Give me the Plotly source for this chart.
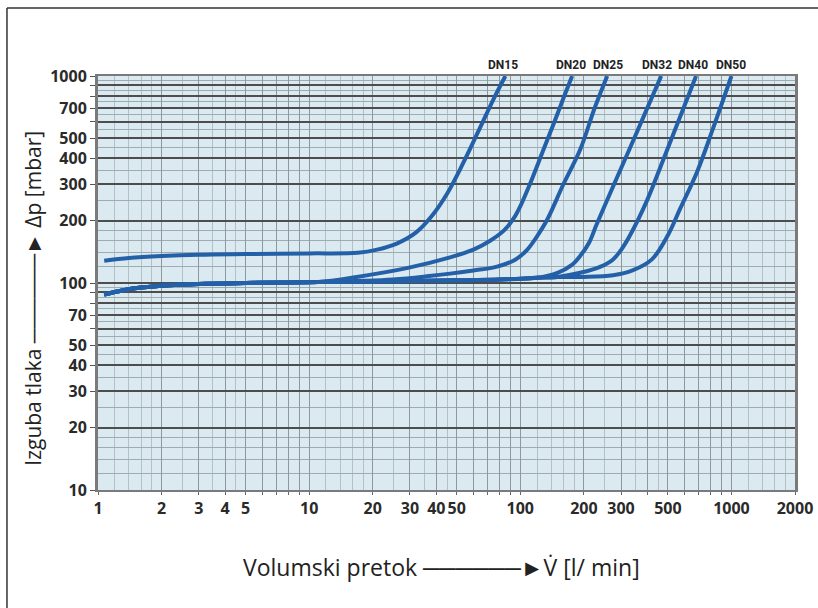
import math
import plotly.graph_objects as go

# ---- data (flow l/min, pressure loss mbar) ----
dn15_x = [1.07, 1.4, 2, 3, 5, 10, 17, 21, 26, 32, 38, 45, 53.6, 64.5, 75, 85]
dn15_y = [128, 132, 135, 137, 138, 139, 140, 145, 155, 175, 210, 270, 379, 563, 780, 1000]

# common lower branch shared by DN20 ... DN50
base_x = [1.07, 1.3, 1.6, 2, 3, 5, 8]
base_y = [88, 92, 95, 97, 99, 100, 100.5]

dn20_x = [11, 16.8, 29, 46.5, 60, 72, 84, 93, 101, 111, 128, 145, 160, 176]
dn20_y = [101, 107, 118, 133, 145, 160, 180, 205, 240, 300, 434, 600, 780, 1000]

dn25_x = [11, 25, 37, 46.5, 60, 77.6, 95, 108, 120, 134, 160, 192, 225, 258]
dn25_y = [101, 104, 108, 111, 115, 120, 130, 145, 168, 202, 300, 440, 700, 1000]

dn32_x = [11, 25, 50, 80, 120, 150, 175, 192, 212, 229, 278, 328, 397, 465]
dn32_y = [101, 102, 103, 104, 106, 112, 122, 135, 157, 190, 300, 440, 690, 1000]

dn40_x = [11, 25, 50, 80, 120, 150, 192, 240, 275, 305, 331, 398, 476, 566, 680]
dn40_y = [101, 102, 103, 104, 106, 107, 112, 120, 130, 148, 170, 250, 395, 620, 1000]

dn50_x = [11, 25, 50, 80, 120, 150, 200, 275, 340, 420, 500, 571, 688, 819, 1000]
dn50_y = [101, 102, 103, 104, 106, 107, 107, 109, 115, 130, 170, 228, 345, 560, 1000]

series_names = ["DN15", "DN20", "DN25", "DN32", "DN40", "DN50"]
label_x = [83, 174, 261, 445, 658, 997]

x_tick_vals = [1, 2, 3, 4, 5, 10, 20, 30, 40, 50, 100, 200, 300, 500, 1000, 2000]
y_tick_vals = [10, 20, 30, 40, 50, 70, 100, 200, 300, 400, 500, 700, 1000]

# ---- figure ----
BLUE = "#2360a8"
fig = go.Figure()

def add(xs, ys):
    fig.add_trace(go.Scatter(x=xs, y=ys, mode="lines",
                             line=dict(color=BLUE, width=4, shape="spline", smoothing=1.0),
                             showlegend=False, hoverinfo="skip"))

for xs, ys in [(dn50_x, dn50_y), (dn40_x, dn40_y), (dn32_x, dn32_y),
               (dn25_x, dn25_y), (dn20_x, dn20_y)]:
    add(base_x + xs, base_y + ys)
add(dn15_x, dn15_y)

# grid positions
x_major = [m * 10 ** e for e in range(0, 4) for m in range(1, 10) if m * 10 ** e <= 2000]
x_minor = [m * 10 ** e for e in range(0, 4) for m in (1.2, 1.4, 1.6, 1.8, 2.5, 3.5, 4.5) if m * 10 ** e <= 2000]
y_major = [m * 10 ** e for e in range(1, 3) for m in range(1, 10)] + [1000]
y_minor = [m * 10 ** e for e in range(1, 3) for m in (1.2, 1.4, 1.6, 1.8, 2.5, 3.5, 4.5, 5.5, 6.5, 7.5, 8.5, 9.5)]

x_text = [str(v) if v in x_tick_vals else "" for v in x_major]
y_text = [str(v) if v in y_tick_vals else "" for v in y_major]

tickfont = dict(family="Open Sans, Noto Sans, sans-serif", size=16, color="#2a2a2a", weight="bold")

fig.update_xaxes(type="log", range=[0, 3.30103],
                 tickmode="array", tickvals=x_major, ticktext=x_text,
                 showgrid=True, gridcolor="#8c989e", gridwidth=1.2,
                 minor=dict(tickmode="array", tickvals=x_minor, showgrid=True,
                            gridcolor="#b3c0c6", gridwidth=1),
                 ticks="outside", ticklen=3, tickcolor="#666",
                 showline=True, linecolor="#7a7a7a", linewidth=2, mirror=True,
                 tickfont=tickfont, zeroline=False, automargin=False)
fig.update_yaxes(type="log", range=[1, 3],
                 tickmode="array", tickvals=y_major, ticktext=y_text,
                 showgrid=True, gridcolor="#4d4d4d", gridwidth=2,
                 minor=dict(tickmode="array", tickvals=y_minor, showgrid=True,
                            gridcolor="#9eabb1", gridwidth=1),
                 ticks="outside", ticklen=5, tickcolor="#555",
                 showline=True, linecolor="#7a7a7a", linewidth=3, mirror=True,
                 tickfont=tickfont, zeroline=False, automargin=False)

annotations = []
for name, lx in zip(series_names, label_x):
    annotations.append(dict(x=math.log10(lx), y=1.0, xref="x", yref="paper",
                            xanchor="center", yanchor="bottom", yshift=2, showarrow=False, text=name,
                            font=dict(family="Liberation Sans Narrow, Arial Narrow, Roboto, sans-serif",
                                      size=12, color="#222", weight="bold")))

annotations.append(dict(x=0.493, y=-0.186, xref="paper", yref="paper", showarrow=False,
                        xanchor="center", yanchor="middle",
                        text="Volumski pretok ──────►V̇ [l/ min]",
                        font=dict(family="Open Sans, Noto Sans, sans-serif", size=23, color="#222")))
annotations.append(dict(x=-0.0935, y=0.464, xref="paper", yref="paper", showarrow=False,
                        xanchor="center", yanchor="middle", textangle=-90,
                        text="Izguba tlaka ──────► Δp [mbar]",
                        font=dict(family="Open Sans, Noto Sans, sans-serif", size=21, color="#222")))

shapes = [
    dict(type="line", xref="paper", yref="paper", x0=-0.1306, x1=1.04, y0=1.164, y1=1.164,
         line=dict(color="#333", width=1.5)),
    dict(type="line", xref="paper", yref="paper", x0=-0.1306, x1=-0.1306, y0=1.164, y1=-0.3,
         line=dict(color="#333", width=1.5)),
]

fig.update_layout(width=818, height=608,
                  margin=dict(l=98, r=23, t=76, b=118),
                  paper_bgcolor="white", plot_bgcolor="#dbe9f0",
                  annotations=annotations, shapes=shapes,
                  showlegend=False)

fig.write_html("out.html", config={"displayModeBar": False},
               post_script="document.body.style.margin='0px';")
